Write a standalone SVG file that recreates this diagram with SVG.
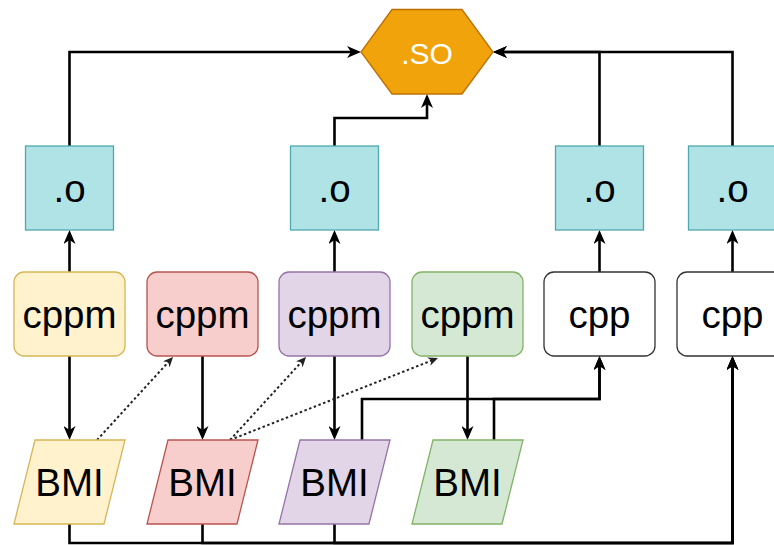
<svg xmlns="http://www.w3.org/2000/svg" width="774" height="545" viewBox="0 0 774 545">
<style>
.t{font-family:"Liberation Sans",Arial,Helvetica,sans-serif;font-size:38.5px;text-anchor:middle;fill:#000}
.so{font-family:"Liberation Sans",Arial,Helvetica,sans-serif;font-size:30px;text-anchor:middle;fill:#fff}
.obj{fill:#b0e3e6;stroke:#4fa8ad;stroke-width:1.3}
.y{fill:#fff2cc;stroke:#d6b656;stroke-width:1.3}
.r{fill:#f8cecc;stroke:#b85450;stroke-width:1.3}
.p{fill:#e1d5e7;stroke:#9673a6;stroke-width:1.3}
.g{fill:#d5e8d4;stroke:#82b366;stroke-width:1.3}
.w{fill:#fff;stroke:#333;stroke-width:1.3}
.c{fill:none;stroke:#000;stroke-width:2.6}
.d{fill:none;stroke:#222;stroke-width:2;stroke-dasharray:2.5 2.5}
</style>
<defs>
<marker id="a" viewBox="0 0 14 12" refX="10" refY="6" markerWidth="14" markerHeight="12" markerUnits="userSpaceOnUse" orient="auto">
<path d="M0,0 L14,6 L0,12 L4,6 z" fill="#000"/>
</marker>
<marker id="ad" viewBox="0 0 10 9" refX="7" refY="4.5" markerWidth="10" markerHeight="9" markerUnits="userSpaceOnUse" orient="auto">
<path d="M0,0 L10,4.5 L0,9 L3,4.5 z" fill="#222"/>
</marker>
</defs>
<g id="connectors">
<path class="c" d="M69.5,146 L69.5,52 L357,52" marker-end="url(#a)"/>
<path class="c" d="M334.5,146 L334.5,118 L427,118 L427,98" marker-end="url(#a)"/>
<path class="c" d="M599.5,146 L599.5,52 L497,52" marker-end="url(#a)"/>
<path class="c" d="M732.5,146 L732.5,52 L497,52" marker-end="url(#a)"/>
<path class="c" d="M69.5,272 L69.5,234" marker-end="url(#a)"/>
<path class="c" d="M334.5,272 L334.5,234" marker-end="url(#a)"/>
<path class="c" d="M599.5,272 L599.5,234" marker-end="url(#a)"/>
<path class="c" d="M732.5,272 L732.5,234" marker-end="url(#a)"/>
<path class="c" d="M69.5,356 L69.5,436" marker-end="url(#a)"/>
<path class="c" d="M202.5,356 L202.5,436" marker-end="url(#a)"/>
<path class="c" d="M334.5,356 L334.5,436" marker-end="url(#a)"/>
<path class="c" d="M467.5,356 L467.5,436" marker-end="url(#a)"/>
<path class="c" d="M362,440 L362,399 L599.5,399 L599.5,360" marker-end="url(#a)"/>
<path class="c" d="M494,440 L494,399 L599.5,399 L599.5,360" marker-end="url(#a)"/>
<path class="c" d="M69.5,524 L69.5,543 L732.5,543 L732.5,360" marker-end="url(#a)"/>
<path class="c" d="M202.5,524 L202.5,543 L732.5,543 L732.5,360" marker-end="url(#a)"/>
<path class="c" d="M334.5,524 L334.5,543 L732.5,543 L732.5,360" marker-end="url(#a)"/>
<path class="d" d="M97,440 L171,359.2" marker-end="url(#ad)"/>
<path class="d" d="M230,440 L304,359.2" marker-end="url(#ad)"/>
<path class="d" d="M230,440 L435.2,359.1" marker-end="url(#ad)"/>
</g>
<g id="so">
<polygon points="392,9.5 462,9.5 493,52 462,94 392,94 361,52" fill="#f0a30a" stroke="#bd7000" stroke-width="1.3"/>
<text class="so" x="427" y="64">.SO</text>
</g>
<g id="o1"><rect class="obj" x="25.5" y="146" width="88" height="84"/><text class="t" x="69.5" y="202">.o</text></g>
<g id="o2"><rect class="obj" x="290.5" y="146" width="88" height="84"/><text class="t" x="334.5" y="202">.o</text></g>
<g id="o3"><rect class="obj" x="555.5" y="146" width="88" height="84"/><text class="t" x="599.5" y="202">.o</text></g>
<g id="o4"><rect class="obj" x="688.5" y="146" width="88" height="84"/><text class="t" x="732.5" y="202">.o</text></g>
<g id="cppm1"><rect class="y" x="14" y="272" width="111" height="84" rx="10"/><text class="t" x="69.5" y="328">cppm</text></g>
<g id="cppm2"><rect class="r" x="147" y="272" width="111" height="84" rx="10"/><text class="t" x="202.5" y="328">cppm</text></g>
<g id="cppm3"><rect class="p" x="279" y="272" width="111" height="84" rx="10"/><text class="t" x="334.5" y="328">cppm</text></g>
<g id="cppm4"><rect class="g" x="412" y="272" width="111" height="84" rx="10"/><text class="t" x="467.5" y="328">cppm</text></g>
<g id="cpp1"><rect class="w" x="544" y="272" width="111" height="84" rx="10"/><text class="t" x="599.5" y="328">cpp</text></g>
<g id="cpp2"><rect class="w" x="677" y="272" width="111" height="84" rx="10"/><text class="t" x="732.5" y="328">cpp</text></g>
<g id="bmi1"><polygon class="y" points="35,440 125,440 104,524 14,524"/><text class="t" x="69.5" y="496">BMI</text></g>
<g id="bmi2"><polygon class="r" points="168,440 258,440 237,524 147,524"/><text class="t" x="202.5" y="496">BMI</text></g>
<g id="bmi3"><polygon class="p" points="300,440 390,440 369,524 279,524"/><text class="t" x="334.5" y="496">BMI</text></g>
<g id="bmi4"><polygon class="g" points="433,440 523,440 502,524 412,524"/><text class="t" x="467.5" y="496">BMI</text></g>
</svg>
